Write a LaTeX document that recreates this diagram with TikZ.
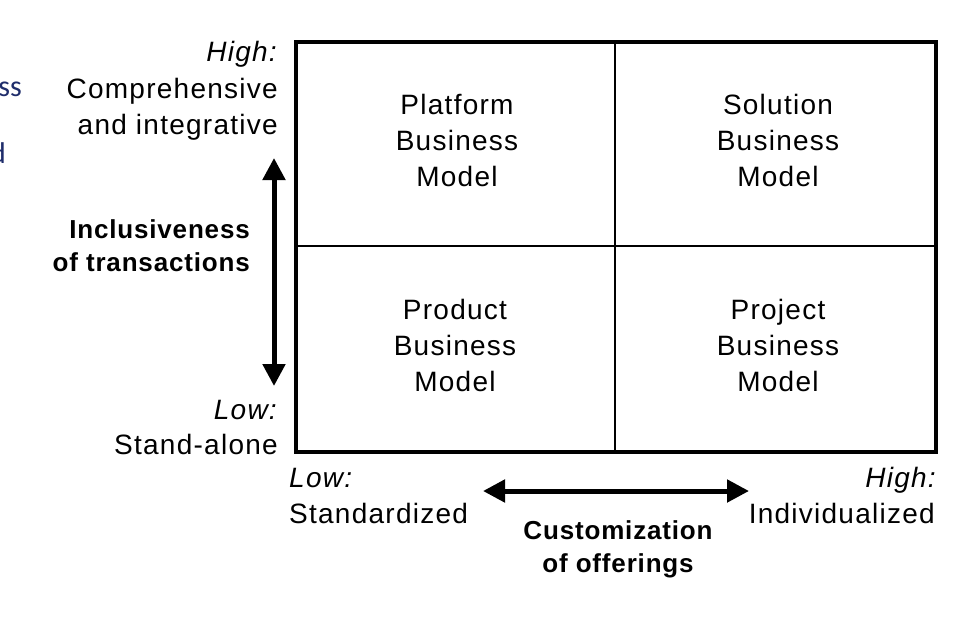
\documentclass[tikz,border=0pt]{standalone}
\usepackage{fontspec}
\setmainfont{Liberation Sans}[LetterSpace=4.5]
\newfontfamily\boldls{Liberation Sans}[LetterSpace=3.2]
\newfontfamily\fragfont{Carlito}
\usetikzlibrary{arrows.meta}
\definecolor{fragblue}{HTML}{1F2D6B}
\begin{document}
\begin{tikzpicture}[x=1pt,y=-1pt,
  lbl/.style={inner sep=0pt,font=\fontsize{28}{36}\selectfont},
  blbl/.style={inner sep=0pt,font=\fontsize{26}{34}\selectfont\boldls\bfseries},
  cell/.style={inner sep=0pt,align=center,font=\fontsize{28}{36}\selectfont},
  frag/.style={inner sep=0pt,text=fragblue,font=\fontsize{30}{34}\selectfont\fragfont},
  bigarrow/.style={line width=5pt,{Triangle[length=22pt,width=22pt]}-{Triangle[length=22pt,width=22pt]}}]
\useasboundingbox (0,0) rectangle (976,626);
\fill[white] (0,0) rectangle (976,626);
% grid
\coordinate (tl) at (296,42);
\coordinate (br) at (936,452);
\draw[line width=2pt] (615,42) -- (615,452);
\draw[line width=2pt] (296,246) -- (936,246);
\draw[line width=4pt] (tl) rectangle (br);
% cells
\node[cell] (c1) at (457,140) {Platform\\Business\\Model};
\node[cell] (c2) at (778,140) {Solution\\Business\\Model};
\node[cell] (c3) at (455,345) {Product\\Business\\Model};
\node[cell] (c4) at (778,345) {Project\\Business\\Model};
% left labels
\node[lbl,anchor=base east] (hi) at (277,62) {\itshape High:};
\node[lbl,anchor=base east] (comp) at (278,98) {Comprehensive};
\node[lbl,anchor=base east] (integ) at (278,134) {and integrative};
\node[lbl,anchor=base east] (lo) at (277,419) {\itshape Low:};
\node[lbl,anchor=base east] (sa) at (278,454) {Stand-alone};
\node[blbl,anchor=base east] (incl1) at (250,238) {Inclusiveness};
\node[blbl,anchor=base east] (incl2) at (250,271) {of transactions};
% bottom labels
\node[lbl,anchor=base west] (blo) at (289,487) {\itshape Low:};
\node[lbl,anchor=base west] (std) at (289,523) {Standardized};
\node[lbl,anchor=base east] (bhi) at (936,487) {\itshape High:};
\node[lbl,anchor=base east] (ind) at (935,523) {Individualized};
\node[blbl,anchor=base] (cust1) at (618,539) {Customization};
\node[blbl,anchor=base] (cust2) at (618,572) {of offerings};
% arrows
\coordinate (vt) at (274,158);
\coordinate (vb) at (274,386);
\draw[bigarrow] (vt) -- (vb);
\coordinate (hl) at (483,491);
\coordinate (hr) at (749,491);
\draw[bigarrow] (hl) -- (hr);
% cropped fragments at left edge
\node[frag,anchor=base east] (f1) at (22,96) {ss};
\node[frag,anchor=base east] (f2) at (6,163) {d};
\end{tikzpicture}
\end{document}
